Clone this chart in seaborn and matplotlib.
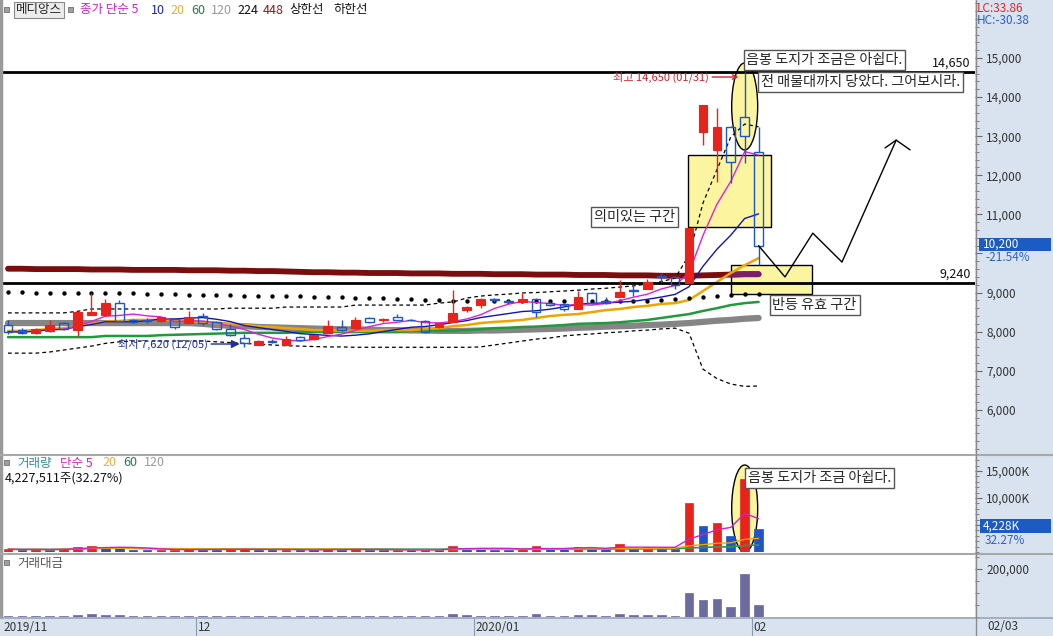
import numpy as np
import pandas as pd
import matplotlib
matplotlib.use("Agg")
import matplotlib.pyplot as plt
import matplotlib.transforms as mtransforms
from matplotlib.patches import Rectangle, Ellipse
from matplotlib.lines import Line2D
from matplotlib.ticker import MultipleLocator, FuncFormatter
import seaborn as sns

sns.set_theme(style="white")
plt.rcParams["font.family"] = ["Noto Sans CJK KR", "DejaVu Sans"]
plt.rcParams["axes.unicode_minus"] = False

# ---------------- data ----------------
stock_name = "메디앙스"
holidays = ["2019-12-25", "2019-12-31", "2020-01-01", "2020-01-24", "2020-01-27"]
trade_days = pd.bdate_range("2019-11-12", "2020-02-03")
trade_days = trade_days[~trade_days.isin(pd.to_datetime(holidays))]

opens = [8170, 8040, 7970, 8020, 8220, 8040, 8430, 8430, 8730, 8300,
         8290, 8270, 8320, 8220, 8400, 8250, 8070, 7840, 7660, 7760,
         7660, 7860, 7810, 7970, 8110, 8090, 8350, 8300, 8370, 8300,
         8270, 8120, 8250, 8550, 8680, 8830, 8780, 8760, 8830, 8730,
         8710, 8580, 9000, 8780, 8890, 9060, 9090, 9420, 9400, 9240,
         13110, 12650, 13240, 13490, 12600]
highs = [8300, 8100, 8090, 8300, 8250, 8540, 9000, 8830, 8800, 8330,
         8350, 8380, 8350, 8530, 8480, 8280, 8200, 7930, 7780, 7820,
         7900, 7900, 7920, 8300, 8300, 8380, 8380, 8350, 8460, 8330,
         8300, 8230, 9070, 8650, 8850, 8870, 8800, 8990, 8870, 8760,
         8740, 9040, 9010, 8890, 9320, 9180, 9350, 9500, 9420, 10650,
         13800, 13720, 13260, 14650, 13240]
lows = [7950, 7940, 7950, 8000, 8050, 7890, 8420, 8400, 8250, 8230,
        8220, 8240, 8080, 8200, 8180, 8050, 7880, 7620, 7650, 7700,
        7650, 7760, 7790, 7960, 8010, 8080, 8220, 8250, 8300, 8270,
        7970, 8100, 8240, 8500, 8600, 8770, 8730, 8750, 8370, 8660,
        8530, 8570, 8720, 8720, 8880, 8900, 9080, 9270, 9100, 9220,
        12780, 11830, 11800, 12310, 9700]
closes = [8000, 7970, 8070, 8170, 8070, 8500, 8500, 8730, 8270, 8250,
          8270, 8370, 8120, 8370, 8220, 8070, 7910, 7710, 7760, 7740,
          7810, 7780, 7910, 8140, 8040, 8300, 8250, 8310, 8300, 8290,
          8000, 8220, 8480, 8630, 8830, 8810, 8760, 8830, 8500, 8690,
          8580, 8890, 8730, 8730, 9020, 9040, 9270, 9400, 9190, 10650,
          13800, 13240, 12340, 13000, 10200]

ma20 = [8020, 8020, 8040, 8070, 8090, 8140, 8200, 8250, 8270, 8300,
        8300, 8300, 8300, 8270, 8250, 8220, 8200, 8170, 8140, 8120,
        8090, 8070, 8040, 8040, 8020, 8020, 8020, 8040, 8040, 8040,
        8070, 8090, 8140, 8170, 8220, 8250, 8270, 8300, 8350, 8400,
        8430, 8450, 8500, 8550, 8580, 8630, 8660, 8710, 8730, 8810,
        9040, 9270, 9500, 9700, 9880]
ma60 = [7860, 7860, 7860, 7860, 7860, 7860, 7860, 7890, 7890, 7890,
        7890, 7910, 7920, 7930, 7940, 7950, 7960, 7970, 7970, 7970,
        7970, 7990, 7990, 7990, 7990, 7990, 7990, 7990, 7990, 8020,
        8020, 8020, 8020, 8040, 8060, 8090, 8100, 8120, 8130, 8150,
        8170, 8200, 8210, 8220, 8240, 8270, 8300, 8350, 8400, 8450,
        8530, 8600, 8680, 8730, 8760]
ma120 = [8220, 8220, 8220, 8220, 8220, 8220, 8220, 8220, 8220, 8220,
         8220, 8220, 8220, 8220, 8200, 8170, 8150, 8140, 8120, 8110,
         8100, 8090, 8080, 8070, 8060, 8060, 8050, 8040, 8040, 8030,
         8030, 8020, 8020, 8020, 8030, 8030, 8040, 8050, 8060, 8070,
         8080, 8100, 8110, 8130, 8140, 8150, 8170, 8180, 8200, 8220,
         8250, 8280, 8300, 8330, 8350]
ma224 = [9010, 9010, 9000, 9000, 9000, 9000, 8990, 8990, 8980, 8980,
         8970, 8960, 8960, 8950, 8950, 8940, 8930, 8920, 8910, 8910,
         8900, 8900, 8890, 8890, 8880, 8870, 8860, 8850, 8840, 8830,
         8810, 8800, 8790, 8790, 8790, 8790, 8790, 8790, 8790, 8790,
         8790, 8790, 8790, 8790, 8790, 8790, 8790, 8810, 8840, 8860,
         8890, 8910, 8940, 8960, 8960]
ma448 = [9610, 9610, 9600, 9600, 9600, 9600, 9590, 9590, 9590, 9580,
         9580, 9580, 9580, 9570, 9570, 9570, 9560, 9560, 9550, 9550,
         9540, 9530, 9520, 9520, 9510, 9510, 9500, 9500, 9500, 9490,
         9490, 9490, 9480, 9480, 9480, 9470, 9470, 9470, 9460, 9460,
         9460, 9450, 9450, 9450, 9440, 9440, 9440, 9430, 9430, 9430,
         9440, 9450, 9460, 9470, 9470]
band_upper = [8480, 8480, 8480, 8480, 8480, 8520, 8580, 8580, 8580, 8580,
              8580, 8580, 8580, 8580, 8580, 8580, 8600, 8600, 8600, 8600,
              8630, 8630, 8630, 8630, 8630, 8680, 8680, 8680, 8680, 8680,
              8680, 8730, 8760, 8860, 8910, 8940, 8960, 8990, 9000, 9020,
              9040, 9060, 9090, 9110, 9140, 9170, 9220, 9280, 9370, 9960,
              11290, 12140, 12980, 13310, 13240]
band_lower = [7450, 7450, 7450, 7480, 7530, 7580, 7630, 7700, 7740, 7760,
              7760, 7760, 7760, 7760, 7760, 7740, 7720, 7700, 7680, 7660,
              7640, 7630, 7620, 7610, 7610, 7600, 7600, 7600, 7600, 7600,
              7600, 7600, 7600, 7600, 7610, 7660, 7710, 7760, 7810, 7840,
              7890, 7920, 7940, 7970, 7990, 8020, 8040, 8070, 8090, 7960,
              7040, 6800, 6660, 6600, 6610]

volume_k = [500, 450, 480, 420, 600, 1000, 1200, 900, 700, 450,
            380, 420, 450, 520, 450, 420, 520, 600, 380, 300,
            450, 380, 330, 600, 450, 520, 380, 300, 420, 330,
            450, 420, 1200, 700, 650, 450, 380, 520, 1200, 600,
            520, 1000, 750, 600, 1500, 650, 950, 700, 600, 9070,
            4820, 5370, 2960, 13500, 4228]
amount_mil = [4700, 4100, 4400, 3900, 5600, 9000, 12000, 8500, 6500, 4200,
              3600, 3900, 4200, 4900, 4200, 3900, 4700, 5300, 3200, 2700,
              3900, 3400, 2900, 5400, 4100, 4900, 3600, 2900, 3900, 3100,
              4100, 3900, 10500, 6500, 6000, 4400, 3700, 5100, 10500, 5900,
              5100, 9000, 7000, 5900, 14000, 6500, 9500, 7000, 6000, 100000,
              71000, 75000, 42000, 179000, 50000]
last_volume_text = "4,227,511주(32.27%)"
last_volume_box = "4,228K"
last_volume_pct = "32.27%"
lc_text, hc_text = "LC:33.86", "HC:-30.38"

level_lines = [14650, 9240]
forecast_x = [54, 55.9, 57.9, 60.0, 63.9]
forecast_y = [10200, 9400, 10520, 9780, 12900]
arrow_head_x = [63.1, 63.9, 64.9]
arrow_head_y = [12700, 12900, 12650]

notes = {
    "top1": "음봉 도지가 조금은 아쉽다.",
    "top2": "전 매물대까지 당았다. 그어보시라.",
    "zone1": "의미있는 구간",
    "zone2": "반등 유효 구간",
    "vol": "음봉 도지가 조금 아쉽다.",
}

# ---------------- figure layout ----------------
W, H = 1053, 636
fig = plt.figure(figsize=(W / 100, H / 100), dpi=100)
fig.patch.set_facecolor("white")


def fx(x):
    return x / W


def fy(y):
    return 1 - y / H


XL = (-0.36, 69.57)
ax = fig.add_axes([fx(3), fy(453), 972 / W, 453 / H])
axv = fig.add_axes([fx(3), fy(552), 972 / W, 96 / H])
axm = fig.add_axes([fx(3), fy(617), 972 / W, 61 / H])

BG = "#d9e3ef"
fig.add_artist(Rectangle((fx(975), fy(617)), (W - 975) / W, 617 / H,
                         transform=fig.transFigure, fc=BG, ec="none", zorder=-1))
fig.add_artist(Rectangle((0, 0), 1, 19 / H, transform=fig.transFigure,
                         fc=BG, ec="none", zorder=-1))

RED, BLUE = "#e8231b", "#1f55c6"
YEL = "#fbf5a0"

idx = np.arange(len(closes))
o, h, l, c = map(np.array, (opens, highs, lows, closes))
df = pd.DataFrame({"idx": idx, "close": c, "ma20": ma20, "ma60": ma60,
                   "ma120": ma120, "ma224": ma224, "ma448": ma448,
                   "up": band_upper, "lo": band_lower,
                   "vol": volume_k, "amt": amount_mil})
df["ma5"] = df["close"].rolling(5).mean()
df["ma10"] = df["close"].rolling(10, min_periods=1).mean()
df["v5"] = df["vol"].rolling(5, min_periods=1).mean()
df["v20"] = df["vol"].rolling(20, min_periods=1).mean()
df["v60"] = df["vol"].rolling(60, min_periods=1).mean()
df["v120"] = df["vol"].rolling(120, min_periods=1).mean()

# ---------------- main price panel ----------------
ax.add_patch(Rectangle((48.9, 10680), 6.0, 1840, fc=YEL, ec="black", lw=1, zorder=1))
ax.add_patch(Rectangle((52.0, 8963), 5.84, 742, fc=YEL, ec="black", lw=1, zorder=1))
ax.add_patch(Ellipse((53, 13760), 1.87, 2225, fc=YEL, ec="black", lw=1, zorder=1))

sns.lineplot(data=df, x="idx", y="ma448", ax=ax, color="#7a0d0d", lw=4.2, zorder=2, estimator=None)
sns.lineplot(data=df.iloc[52:], x="idx", y="ma448", ax=ax, color="#7b1f6a", lw=4.2, zorder=2.1, estimator=None)
sns.lineplot(data=df, x="idx", y="ma120", ax=ax, color="#858585", lw=4.5, zorder=2, estimator=None)
sns.lineplot(data=df, x="idx", y="ma60", ax=ax, color="#1f9a3c", lw=1.8, zorder=2.5, estimator=None)
sns.lineplot(data=df, x="idx", y="ma20", ax=ax, color="#f0a400", lw=1.8, zorder=2.6, estimator=None)
sns.lineplot(data=df, x="idx", y="up", ax=ax, color="black", lw=0.9, zorder=2.7,
             estimator=None, linestyle=(0, (3, 2.5)))
sns.lineplot(data=df, x="idx", y="lo", ax=ax, color="black", lw=0.9, zorder=2.7,
             estimator=None, linestyle=(0, (3, 2.5)))
sns.scatterplot(data=df, x="idx", y="ma224", ax=ax, color="black", s=10, linewidth=0, zorder=3)
sns.lineplot(data=df, x="idx", y="ma10", ax=ax, color="#1414b4", lw=1, zorder=3.2, estimator=None)
sns.lineplot(data=df, x="idx", y="ma5", ax=ax, color="#e020d8", lw=1, zorder=3.3, estimator=None)

for v in level_lines:
    ax.axhline(v, color="black", lw=2, zorder=3.5)
    ax.annotate(f"{v:,}", xy=(1, v), xycoords=("axes fraction", "data"),
                xytext=(-3, 1.5), textcoords="offset points", ha="right", va="bottom",
                fontsize=9, color="#111111", zorder=8)

# candles
up = c >= o
col = np.where(up, RED, BLUE)
top = np.maximum(o, c)
bot = np.minimum(o, c)
ax.vlines(idx, top, h, colors=col, lw=1, zorder=5)
ax.vlines(idx, l, bot, colors=col, lw=1, zorder=5)
body_h = np.maximum(top - bot, 15)
ax.bar(idx[up], body_h[up], bottom=bot[up], width=0.62, color=RED, edgecolor=RED, lw=0.8, zorder=6)
ax.bar(idx[~up], body_h[~up], bottom=bot[~up], width=0.62, facecolor="none",
       edgecolor=BLUE, lw=1, zorder=6)

# forecast zigzag
ax.plot(forecast_x, forecast_y, color="black", lw=1, zorder=6.5)
ax.plot(arrow_head_x, arrow_head_y, color="black", lw=1, zorder=6.5)

# notes
NFS = 10.2
box = dict(boxstyle="square,pad=0.2", fc="white", ec="#555555", lw=1)
ax.text(53.12, 14949, notes["top1"], fontsize=NFS, ha="left", va="center", bbox=box, zorder=9)
ax.text(54.15, 14386, notes["top2"], fontsize=NFS, ha="left", va="center", bbox=box, zorder=9)
ax.text(42.15, 10933, notes["zone1"], fontsize=NFS, ha="left", va="center", bbox=box, zorder=9)
ax.text(55.0, 8682, notes["zone2"], fontsize=NFS, ha="left", va="center", bbox=box, zorder=9)

ih = int(np.argmax(h))
il = int(np.argmin(l))
ax.annotate(f"최고 {h[ih]:,} ({trade_days[ih]:%m/%d})", xy=(ih - 0.45, 14514),
            xytext=(43.53, 14514), ha="left", va="center", fontsize=8, color="#d0202a",
            arrowprops=dict(arrowstyle="->", color="#d0202a", lw=1, shrinkA=0, shrinkB=0), zorder=9)
ax.annotate(f"최저 {l[il]:,} ({trade_days[il]:%m/%d})", xy=(il - 0.33, 7684),
            xytext=(7.91, 7684), ha="left", va="center", fontsize=8, color="#1f2f9f",
            arrowprops=dict(arrowstyle="-|>", color="#1f2f9f", lw=1, shrinkA=0, shrinkB=0,
                            mutation_scale=12), zorder=9)

# ---------------- volume panel ----------------
axv.add_patch(Ellipse((53, 8056), 1.87, 16111, fc=YEL, ec="black", lw=1, zorder=1))
vol = np.array(volume_k)
vcol = [RED] + [RED if vol[i] >= vol[i - 1] else BLUE for i in range(1, len(vol))]
axv.bar(idx, vol, width=0.62, color=vcol, edgecolor=vcol, lw=0.5, zorder=3)
sns.lineplot(data=df, x="idx", y="v120", ax=axv, color="#909090", lw=1, zorder=4, estimator=None)
sns.lineplot(data=df, x="idx", y="v60", ax=axv, color="#1f9a3c", lw=1, zorder=4, estimator=None)
sns.lineplot(data=df, x="idx", y="v20", ax=axv, color="#f0a400", lw=1, zorder=4, estimator=None)
sns.lineplot(data=df, x="idx", y="v5", ax=axv, color="#d020c8", lw=1, zorder=4.2, estimator=None)
axv.text(53.25, 13704, notes["vol"], fontsize=NFS, ha="left", va="center", bbox=box, zorder=9)

# ---------------- trading value panel ----------------
axm.bar(idx, amount_mil, width=0.62, color="#6b6b9e", edgecolor="#6b6b9e", lw=0.5, zorder=3)

# ---------------- axes styling ----------------
for a in (ax, axv, axm):
    a.set_xlim(*XL)
    a.set_facecolor("white")
    for s in a.spines.values():
        s.set_visible(False)
    a.set_xticks([])
    a.set_xlabel("")
    a.set_ylabel("")
    a.grid(False)
    a.yaxis.tick_right()
    a.tick_params(axis="y", which="both", direction="out", colors="#6a6a6a",
                  labelcolor="#333333", labelsize=8.5, pad=3, left=False, right=True)
    a.tick_params(axis="y", which="major", length=5, width=0.8)
    a.tick_params(axis="y", which="minor", length=3, width=0.6)

hidden_price_tick = 10000   # covered by the current-price box
hidden_vol_tick = 5000      # covered by the current-volume box
ax.set_ylim(4896, 16484)
ax.set_yticks(range(6000, 15001, 1000))
ax.yaxis.set_major_formatter(FuncFormatter(lambda v, p: "" if int(v) == hidden_price_tick else f"{int(v):,}"))
ax.yaxis.set_minor_locator(MultipleLocator(200))

axv.set_ylim(0, 17778)
axv.set_yticks([5000, 10000, 15000])
axv.yaxis.set_major_formatter(FuncFormatter(lambda v, p: "" if int(v) == hidden_vol_tick else f"{int(v):,}K"))
axv.yaxis.set_minor_locator(MultipleLocator(1000))

axm.set_ylim(0, 254000)
axm.set_yticks([200000])
axm.yaxis.set_major_formatter(FuncFormatter(lambda v, p: f"{int(v):,}"))
axm.yaxis.set_minor_locator(MultipleLocator(50000))

# date strip
blend = mtransforms.blended_transform_factory(axm.transData, axm.transAxes)
axm.text(XL[0] + 0.05, -0.165, f"{trade_days[0]:%Y/%m}", transform=blend, ha="left",
         va="center", fontsize=8.5, color="#333333", clip_on=False)
for i in range(1, len(trade_days)):
    if trade_days[i].month != trade_days[i - 1].month:
        sep = i - 0.5
        lab = f"{trade_days[i]:%Y/%m}" if trade_days[i].month == 1 else f"{trade_days[i]:%m}"
        axm.plot([sep, sep], [0, -0.31], transform=blend, color="#8a9ab0", lw=0.8, clip_on=False)
        axm.text(sep + 0.15, -0.165, lab, transform=blend, ha="left", va="center",
                 fontsize=8.5, color="#333333", clip_on=False)
fig.text(fx(987), fy(627), f"{trade_days[-1]:%m/%d}", ha="left", va="center",
         fontsize=8.5, color="#333333")

# ---------------- frame lines ----------------
def fline(x0, y0, x1, y1, color="#a0a0a0", lw=1.2, z=5):
    fig.add_artist(Line2D([fx(x0), fx(x1)], [fy(y0), fy(y1)], transform=fig.transFigure,
                          color=color, lw=lw, zorder=z))


fline(1, 0, 1, 617, "#9a9a9a", 2.5)
fline(0, 454.5, W, 454.5, "#a8a8a8", 1.5)
fline(0, 553.5, W, 553.5, "#a8a8a8", 1.5)
fline(0, 617.5, W, 617.5, "#9aa6b6", 1.2)
fline(975.5, 0, 975.5, 636, "#8a8a8a", 1)

# ---------------- legends / labels ----------------
def sq(x, y):
    fig.add_artist(Rectangle((fx(x), fy(y + 5)), 5 / W, 5 / H, transform=fig.transFigure,
                             fc="#a0a0a0", ec="#707070", lw=0.6, zorder=6))


sq(4, 7)
sq(68, 7)
fig.add_artist(Rectangle((fx(14), fy(18)), 50 / W, 16 / H, transform=fig.transFigure,
                         fc="#ececec", ec="#8a8a8a", lw=0.8, zorder=6))
fig.text(fx(39), fy(10), stock_name, ha="center", va="center", fontsize=9, color="#222222", zorder=7)
legend_items = [("종가 단순 5", 80, "#cc22cc"), ("10", 151, "#2020b0"), ("20", 170, "#e3b13a"),
                ("60", 191, "#208040"), ("120", 211, "#9a9a9a"), ("224", 237, "#111111"),
                ("448", 263, "#8b1a1a"), ("상한선", 289, "#111111"), ("하한선", 333, "#111111")]
for t, x, cc in legend_items:
    fig.text(fx(x), fy(10), t, ha="left", va="center", fontsize=9, color=cc, zorder=7)

sq(4, 460)
vol_items = [("거래량", 17, "#2f8f9f"), ("단순 5", 60, "#cc22cc"), ("20", 102, "#e3b13a"),
             ("60", 123, "#208040"), ("120", 144, "#9a9a9a")]
for t, x, cc in vol_items:
    fig.text(fx(x), fy(463), t, ha="left", va="center", fontsize=9, color=cc, zorder=7)
fig.text(fx(5), fy(478), last_volume_text, ha="left", va="center", fontsize=9, color="#111111", zorder=7)
sq(4, 560)
fig.text(fx(17), fy(563), "거래대금", ha="left", va="center", fontsize=9, color="#555555", zorder=7)

fig.text(fx(977), fy(8), lc_text, ha="left", va="center", fontsize=8.5, color="#d42a2a", zorder=7)
fig.text(fx(977), fy(20), hc_text, ha="left", va="center", fontsize=8.5, color="#2a62c9", zorder=7)

pct = (closes[-1] / closes[-2] - 1) * 100
fig.add_artist(Rectangle((fx(979), fy(251)), 72 / W, 13 / H, transform=fig.transFigure,
                         fc="#1c5bc4", ec="none", zorder=6))
fig.text(fx(983), fy(244.5), f"{closes[-1]:,}", ha="left", va="center", fontsize=8.5, color="white", zorder=7)
fig.text(fx(985), fy(257), f"{pct:.2f}%", ha="left", va="center", fontsize=8.5, color="#2a62c9", zorder=7)

fig.add_artist(Rectangle((fx(980), fy(533)), 71 / W, 14 / H, transform=fig.transFigure,
                         fc="#1c5bc4", ec="none", zorder=6))
fig.text(fx(983), fy(526), last_volume_box, ha="left", va="center", fontsize=8.5, color="white", zorder=7)
fig.text(fx(985), fy(541), last_volume_pct, ha="left", va="center", fontsize=8.5, color="#2a62c9", zorder=7)

fig.savefig("out.png", dpi=100, facecolor="white")
